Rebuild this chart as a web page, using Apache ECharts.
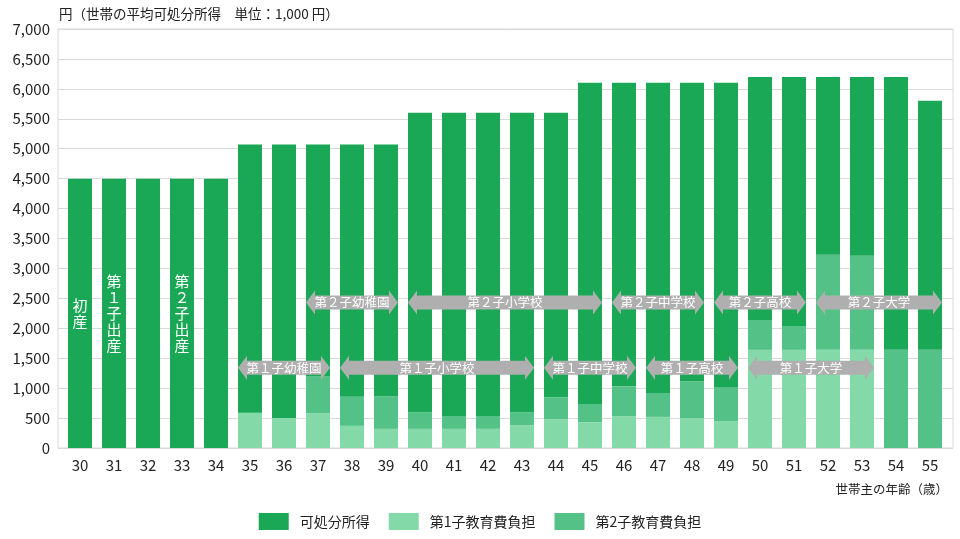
<!DOCTYPE html>
<html>
<head>
<meta charset="utf-8">
<script src="https://cdn.jsdelivr.net/npm/echarts@6/dist/echarts.min.js"></script>
<style>html,body{margin:0;padding:0;background:#fff}#c{width:960px;height:539px}</style>
</head>
<body>
<div id="c"></div>
<script>
// ---- data ----
const ages = ['30','31','32','33','34','35','36','37','38','39','40','41','42','43','44','45','46','47','48','49','50','51','52','53','54','55'];
// bottom segment: 第1子教育費負担
const child1Cost = [0,0,0,0,0,590,500,580,370,320,320,320,320,380,480,430,530,520,500,450,1640,1640,1640,1640,0,0];
// middle segment: 第2子教育費負担
const child2Cost = [0,0,0,0,0,0,0,620,485,540,280,215,215,220,370,305,500,400,610,555,500,400,1590,1570,1640,1640];
// top segment: 可処分所得 (remaining)
const disposable = [4500,4500,4500,4500,4500,4480,4570,3870,4215,4210,5000,5065,5065,5000,4750,5365,5070,5180,4990,5095,4060,4160,2970,2990,4560,4160];
// life events written vertically in bars
const eventLabels = ['初産','第１子出産','','第２子出産','','','','','','','','','','','','','','','','','','','','','',''];
// school-stage arrows
const arrowLabels = ['第１子幼稚園','第１子小学校','第１子中学校','第１子高校','第１子大学','第２子幼稚園','第２子小学校','第２子中学校','第２子高校','第２子大学'];
const arrowStart  = ['35','38','44','47','50','37','40','46','49','52'];
const arrowEnd    = ['37','43','46','49','53','39','45','48','51','55'];
const arrowChild  = [1,1,1,1,1,2,2,2,2,2];
const seriesNames = ['可処分所得','第1子教育費負担','第2子教育費負担'];
const yTicks = ['0','500','1,000','1,500','2,000','2,500','3,000','3,500','4,000','4,500','5,000','5,500','6,000','6,500','7,000'];

// ---- chart ----
const FONT = '"Noto Sans CJK JP", "Noto Sans", sans-serif';
const COLORS = { dark: '#1BA856', light: '#84D9A8', mid: '#54C286', arrow: '#AFAFAF' };
const ROW_VALUE = { 1: 1340, 2: 2430 };

const arrowData = arrowLabels.map((_, i) => [ages.indexOf(arrowStart[i]), ages.indexOf(arrowEnd[i]), ROW_VALUE[arrowChild[i]]]);

const chart = echarts.init(document.getElementById('c'), null, { renderer: 'canvas' });
chart.setOption({
  animation: false,
  textStyle: { fontFamily: FONT },
  title: [
    { text: '円（世帯の平均可処分所得　単位：1,000 円）', left: 54, top: 2,
      textStyle: { fontSize: 13.5, fontWeight: 'normal', color: '#222', fontFamily: FONT } },
    { text: '世帯主の年齢（歳）', right: 7, top: 478,
      textStyle: { fontSize: 12.5, fontWeight: 'normal', color: '#222', fontFamily: FONT } }
  ],
  legend: {
    data: seriesNames, top: 508, left: 'center', icon: 'rect',
    itemWidth: 30, itemHeight: 17, itemGap: 19,
    textStyle: { fontSize: 14, color: '#222', fontFamily: FONT, padding: [0, 0, 0, 6] }
  },
  grid: [
    { left: 58, right: 7, top: 29, bottom: 91, show: true, borderColor: '#d9d9d9', borderWidth: 1 },
    { left: 63, right: 13, top: 29, bottom: 91 }
  ],
  xAxis: [
    { gridIndex: 0, type: 'category', data: ages, show: false },
    { gridIndex: 1, type: 'category', data: ages,
      axisLine: { show: false }, axisTick: { show: false },
      axisLabel: { fontSize: 15, color: '#222', margin: 10, fontFamily: FONT } }
  ],
  yAxis: [
    { gridIndex: 0, type: 'value', min: 0, max: 7000, interval: 500,
      axisLine: { show: false }, axisTick: { show: false },
      splitLine: { lineStyle: { color: '#d9d9d9', width: 1 } },
      axisLabel: { fontSize: 15, color: '#222', margin: 8, fontFamily: FONT,
        formatter: (v) => yTicks[Math.round(v / 500)] } },
    { gridIndex: 1, type: 'value', min: 0, max: 7000, interval: 500, show: false }
  ],
  series: [
    { name: seriesNames[1], type: 'bar', stack: 'total', xAxisIndex: 1, yAxisIndex: 1,
      data: child1Cost, barWidth: 24, itemStyle: { color: COLORS.light } },
    { name: seriesNames[2], type: 'bar', stack: 'total', xAxisIndex: 1, yAxisIndex: 1,
      data: child2Cost, barWidth: 24, itemStyle: { color: COLORS.mid } },
    { name: seriesNames[0], type: 'bar', stack: 'total', xAxisIndex: 1, yAxisIndex: 1,
      data: disposable, barWidth: 24, itemStyle: { color: COLORS.dark },
      label: { show: true, position: 'inside', color: '#fff', fontSize: 15, lineHeight: 16, fontFamily: FONT,
        formatter: (p) => eventLabels[p.dataIndex] ? eventLabels[p.dataIndex].split('').join('\n') : '' } },
    { type: 'custom', xAxisIndex: 1, yAxisIndex: 1, z: 10, data: arrowData,
      encode: { x: [0, 1], y: 2 },
      renderItem: function (params, api) {
        const s = api.coord([api.value(0), api.value(2)]);
        const e = api.coord([api.value(1), api.value(2)]);
        const band = api.size([1, 0])[0];
        const half = 12 / 34 * band;
        const x0 = s[0] - half, x1 = e[0] + half, y = s[1];
        const hh = 12, bh = 7, head = 9;
        return {
          type: 'group',
          children: [
            { type: 'polygon',
              shape: { points: [[x0, y], [x0 + head, y - hh], [x0 + head, y - bh], [x1 - head, y - bh], [x1 - head, y - hh],
                                [x1, y], [x1 - head, y + hh], [x1 - head, y + bh], [x0 + head, y + bh], [x0 + head, y + hh]] },
              style: { fill: COLORS.arrow } },
            { type: 'text',
              style: { text: arrowLabels[params.dataIndex], x: (x0 + x1) / 2, y: y, align: 'center', verticalAlign: 'middle',
                       fill: '#fff', font: '12.5px ' + FONT } }
          ]
        };
      }
    }
  ]
});
</script>
</body>
</html>
